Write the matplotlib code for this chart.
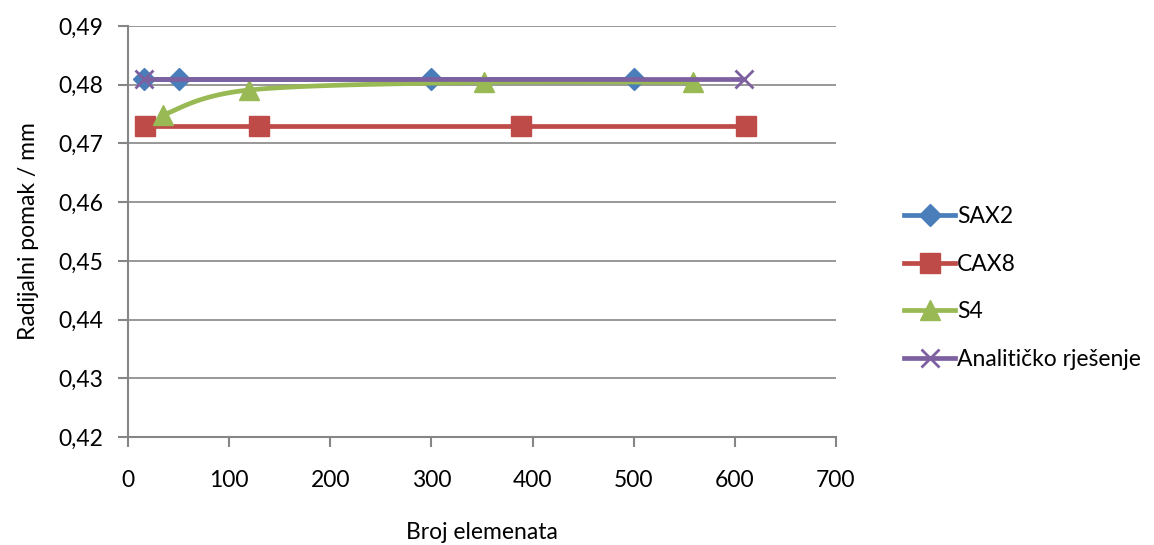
import numpy as np
import matplotlib
matplotlib.use("Agg")
import matplotlib.pyplot as plt
from matplotlib.lines import Line2D

plt.rcParams['font.family'] = ['Lato', 'DejaVu Sans']

sax2_x = [16, 50, 300, 500]
sax2_y = [0.481, 0.481, 0.481, 0.481]
cax8_x = [17, 130, 389, 611]
cax8_y = [0.473, 0.473, 0.473, 0.473]
s4_x = [35, 120, 352, 559]
s4_y = [0.4749, 0.4791, 0.4804, 0.4804]
an_x = [16, 609]
an_y = [0.481, 0.481]

xticks = [0, 100, 200, 300, 400, 500, 600, 700]
yticks = [0.42, 0.43, 0.44, 0.45, 0.46, 0.47, 0.48, 0.49]

C_BLUE = '#4A7EBB'
C_RED = '#BE4B48'
C_GREEN = '#98B954'
C_PURPLE = '#7D60A0'

FS = 16.5


def smooth(x, y, n=40):
    # Catmull-Rom style smoothing (like Excel's smoothed line)
    x = np.asarray(x, float); y = np.asarray(y, float)
    px = np.concatenate([[x[0]], x, [x[-1]]])
    py = np.concatenate([[y[0]], y, [y[-1]]])
    xs, ys = [], []
    for i in range(1, len(px) - 2):
        p0, p1, p2, p3 = (np.array([px[j], py[j]]) for j in (i - 1, i, i + 1, i + 2))
        c1 = p1 + (p2 - p0) / 6
        c2 = p2 - (p3 - p1) / 6
        t = np.linspace(0, 1, n)[:, None]
        b = ((1 - t) ** 3) * p1 + 3 * ((1 - t) ** 2) * t * c1 + 3 * (1 - t) * t ** 2 * c2 + t ** 3 * p2
        xs.append(b[:, 0]); ys.append(b[:, 1])
    return np.concatenate(xs), np.concatenate(ys)


fig = plt.figure(figsize=(11.54, 5.45), dpi=100)
ax = fig.add_axes([128 / 1154, 1 - 437 / 545, (836 - 128) / 1154, (437 - 26) / 545])

lw = 3.4
ax.plot(sax2_x, sax2_y, color=C_BLUE, lw=lw, marker='D', ms=11, mec=C_BLUE, mfc=C_BLUE, zorder=3)
ax.plot(cax8_x, cax8_y, color=C_RED, lw=lw, marker='s', ms=14, mec=C_RED, mfc=C_RED, zorder=3)
sx, sy = smooth(s4_x, s4_y)
ax.plot(sx, sy, color=C_GREEN, lw=lw, zorder=3)
ax.plot(s4_x, s4_y, ls='none', marker='^', ms=14, mec=C_GREEN, mfc=C_GREEN, zorder=3)
ax.plot(an_x, an_y, color=C_PURPLE, lw=lw, marker='x', ms=13, mew=2, mec=C_PURPLE, zorder=4)

ax.set_xlim(0, 700)
ax.set_ylim(0.42, 0.49)
ax.set_xticks(xticks)
ax.set_xticklabels([str(v) for v in xticks], fontsize=FS)
ax.set_yticks(yticks)
ax.set_yticklabels([f"{v:.2f}".replace('.', ',') for v in yticks], fontsize=FS)
ax.grid(axis='y', color='#868686', lw=1.2)
ax.set_axisbelow(True)
for s in ['top', 'right']:
    ax.spines[s].set_visible(False)
for s in ['left', 'bottom']:
    ax.spines[s].set_color('#868686')
    ax.spines[s].set_linewidth(1.5)
ax.tick_params(axis='x', direction='out', length=7, width=1.5, color='#868686', pad=17)
ax.tick_params(axis='y', direction='out', length=7, width=1.5, color='#868686', pad=11)

ax.set_xlabel('Broj elemenata', fontsize=FS, labelpad=22)
ax.set_ylabel('Radijalni pomak / mm', fontsize=FS, labelpad=14)

handles = [
    Line2D([], [], color=C_BLUE, lw=lw, marker='D', ms=11),
    Line2D([], [], color=C_RED, lw=lw, marker='s', ms=14),
    Line2D([], [], color=C_GREEN, lw=lw, marker='^', ms=14),
    Line2D([], [], color=C_PURPLE, lw=lw, marker='x', ms=13, mew=2),
]
labels = ['SAX2', 'CAX8', 'S4', 'Analitičko rješenje']
fig.legend(handles, labels, loc='center left', bbox_to_anchor=(893 / 1154, 1 - 288 / 545),
           frameon=False, fontsize=FS, handlelength=2.2, handletextpad=0.1,
           labelspacing=1.17, borderpad=0)

fig.savefig('out.png', dpi=100)
